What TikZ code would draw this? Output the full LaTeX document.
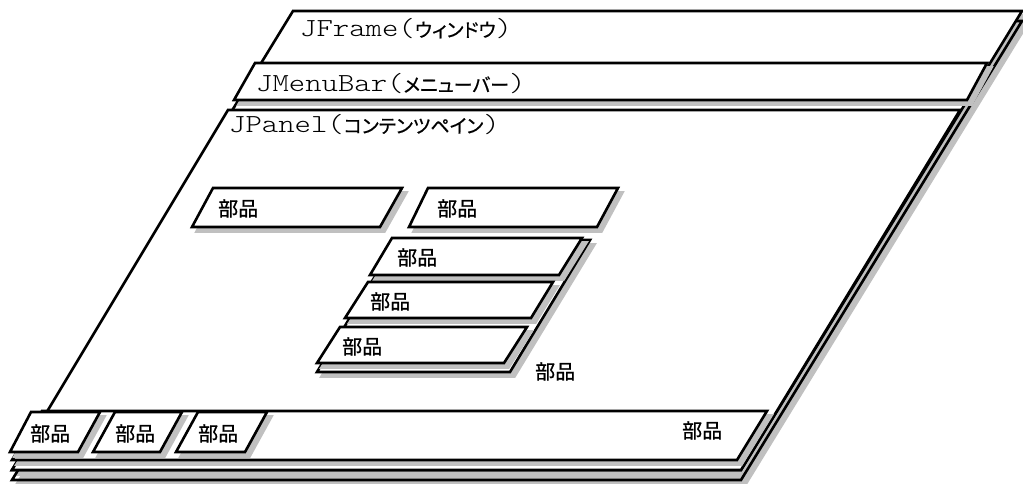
\documentclass[tikz,border=0pt]{standalone}
\usepackage{fontspec}
\newfontfamily\courfont{Latin Modern Mono Light}[FakeStretch=1.2]
\newfontfamily\jpfont{Noto Sans CJK JP}[RawFeature=+palt, FakeBold=0.6]
\newfontfamily\jplab{Noto Sans CJK JP}[FakeBold=0.8]
\definecolor{shadowgray}{RGB}{192,192,192}
\newcommand\kana[1]{{\fontsize{19}{22}\selectfont\jpfont #1}}
\tikzset{
  sheet/.style={draw=black, line width=2.6pt, fill=white, line join=miter},
  outline/.style={draw=black, line width=2.6pt, line join=miter},
  shade/.style={draw=shadowgray, fill=shadowgray, line width=2.6pt, shift={(4.5,4.5)}},
  ttl/.style={anchor=base west, inner sep=0pt, font=\fontsize{26}{30}\selectfont\courfont},
  buhin/.style={anchor=base west, inner sep=0pt, font=\fontsize{20}{22}\selectfont\jplab},
}
\newcommand\slab[4]{%
  \filldraw[shade] #1--#2--#3--#4--cycle;
  \filldraw[sheet] #1--#2--#3--#4--cycle;}
\begin{document}
\begin{tikzpicture}[x=1pt,y=-1pt]
\useasboundingbox (0,0) rectangle (1023,484);
% frame stack: shadows first
\filldraw[shade] (293,21)--(1022,21)--(741,480)--(12,480)--cycle;
\filldraw[shade] (293,11)--(1022,11)--(741,470)--(12,470)--cycle;
\draw[outline] (293,21)--(1022,21)--(741,480)--(12,480)--cycle;
\filldraw[sheet] (293,11)--(1022,11)--(741,470)--(12,470)--cycle;
% JMenuBar
\slab{(255,63)}{(987,63)}{(967,100)}{(234,100)}
% JPanel
\filldraw[sheet] (228,110)--(960,110)--(741,470)--(12,470)--cycle;
% titles
\node[ttl] (tframe) at (300,37) {JFrame(\kana{ウィンドウ})};
\node[ttl] (tmenu) at (256,92) {JMenuBar(\kana{メニューバー})};
\node[ttl] (tpanel) at (229,133) {JPanel(\kana{コンテンツペイン})};
% parts
\slab{(213,188)}{(402,188)}{(380,227)}{(192,227)}
\node[buhin] (p1) at (218,216) {部品};
\slab{(428,188)}{(618,188)}{(597,227)}{(409,227)}
\node[buhin] (p2) at (437,216) {部品};
% container of stacked parts
\slab{(397,240)}{(590,240)}{(510,372)}{(317,372)}
\node[buhin] (pc) at (535,379) {部品};
\slab{(392,238)}{(582,238)}{(559,275)}{(370,275)}
\node[buhin] (s1) at (397,265) {部品};
\slab{(368,282)}{(553,282)}{(531,318)}{(345,318)}
\node[buhin] (s2) at (370,309) {部品};
\slab{(340,327)}{(527,327)}{(504,363)}{(317,363)}
\node[buhin] (s3) at (342,354) {部品};
% bottom bar
\slab{(42,411)}{(767,411)}{(737,460)}{(12,460)}
\node[buhin] (pb) at (682,438) {部品};
\slab{(31,412)}{(100,412)}{(78,452)}{(10,452)}
\node[buhin] (b1) at (30,441) {部品};
\slab{(115,412)}{(182,412)}{(160,452)}{(93,452)}
\node[buhin] (b2) at (115,441) {部品};
\slab{(198,412)}{(267,412)}{(245,452)}{(176,452)}
\node[buhin] (b3) at (198,441) {部品};
\end{tikzpicture}
\end{document}
